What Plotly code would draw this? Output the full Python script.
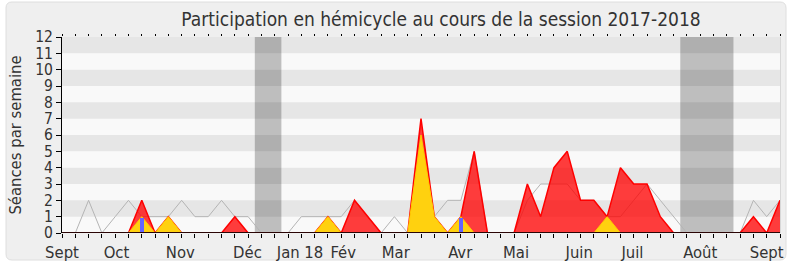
import plotly.graph_objects as go

# ---------------- data ----------------
weeks = list(range(55))
median_line = [0, 0, 2, 0, 1, 2, 1, 1, 1, 2, 1, 1, 2, 1, 1, 0, 0, 0, 1, 1,
               1, 1, 2, 1, 0, 1, 0, 1, 1, 2, 2, 5, 0, 0, 0, 2, 3, 3, 3, 2,
               2, 1, 1, 2, 3, 2, 1, 0, 0, 0, 0, 0, 2, 1, 2]
presences = [0, 0, 0, 0, 0, 0, 2, 0, 1, 0, 0, 0, 0, 1, 0, 0, 0, 0, 0, 0,
             1, 0, 2, 1, 0, 0, 0, 7, 1, 0, 1, 5, 0, 0, 0, 3, 1, 4, 5, 2,
             2, 1, 4, 3, 3, 1, 0, 0, 0, 0, 0, 0, 1, 0, 2]
interventions = [0, 0, 0, 0, 0, 0, 1, 0, 1, 0, 0, 0, 0, 0, 0, 0, 0, 0, 0, 0,
                 1, 0, 0, 0, 0, 0, 0, 6, 1, 0, 1, 0, 0, 0, 0, 0, 0, 0, 0, 0,
                 0, 1, 0, 0, 0, 0, 0, 0, 0, 0, 0, 0, 0, 0, 0]
question_weeks = [6, 30]
question_values = [0.9, 0.9]
vacances = [(14.5, 16.5), (46.5, 50.5)]
month_labels = ["Sept", "Oct", "Nov", "Déc", "Jan 18", "Fév", "Mar", "Avr",
                "Mai", "Juin", "Juil", "Août", "Sept"]
month_pos = [0, 4.1, 8.9, 13.95, 17.9, 21.15, 25.1, 29.95, 34.15, 38.9,
             42.9, 48.0, 53.0]
y_ticks = list(range(13))

# ---------------- style ----------------
W, H = 790, 267
ML, MR, MT, MB = 62, 10, 37, 34
FONT = "DejaVu Sans Condensed, DejaVu Sans, sans-serif"
TXT = "#333333"

fig = go.Figure()

fig.add_trace(go.Scatter(x=weeks, y=median_line, mode="lines",
                         line=dict(color="#b4b4b4", width=1),
                         hoverinfo="skip", showlegend=False))
fig.add_trace(go.Scatter(x=weeks, y=presences, mode="lines", fill="tozeroy",
                         fillcolor="rgba(255,0,0,0.76)",
                         line=dict(color="#ff0000", width=1.5),
                         showlegend=False))
fig.add_trace(go.Scatter(x=weeks, y=interventions, mode="lines", fill="tozeroy",
                         fillcolor="#ffd10f",
                         line=dict(color="#ffcc00", width=1),
                         showlegend=False))
fig.add_trace(go.Bar(x=question_weeks, y=question_values, width=0.3,
                     marker=dict(color="#6464ff", line=dict(width=0)),
                     xaxis="x2", yaxis="y2", showlegend=False))

pw, ph = W - ML - MR, H - MT - MB
def px(x):
    return (x - ML) / pw
def py(y):
    return (H - MB - y) / ph

shapes = []
# rounded card behind everything
x0c, x1c, y0c, y1c, r = 6, 786, 2, 260, 6
path = (f"M {px(x0c + r)} {py(y0c)} L {px(x1c - r)} {py(y0c)} "
        f"Q {px(x1c)} {py(y0c)} {px(x1c)} {py(y0c + r)} "
        f"L {px(x1c)} {py(y1c - r)} Q {px(x1c)} {py(y1c)} {px(x1c - r)} {py(y1c)} "
        f"L {px(x0c + r)} {py(y1c)} Q {px(x0c)} {py(y1c)} {px(x0c)} {py(y1c - r)} "
        f"L {px(x0c)} {py(y0c + r)} Q {px(x0c)} {py(y0c)} {px(x0c + r)} {py(y0c)} Z")
shapes.append(dict(type="path", xref="paper", yref="paper", path=path,
                   fillcolor="#efefef", line=dict(color="#dedede", width=1),
                   layer="below"))
# plot area background
shapes.append(dict(type="rect", xref="paper", yref="paper", x0=0, x1=1,
                   y0=0, y1=1, fillcolor="#f9f9f9", line=dict(width=0),
                   layer="below"))
for (a, b) in vacances:
    shapes.append(dict(type="rect", xref="x", yref="paper", x0=a, x1=b,
                       y0=0, y1=1, fillcolor="#bebebe", line=dict(width=0),
                       layer="below"))
for k in y_ticks[:-1]:
    if k % 2 == 1:
        shapes.append(dict(type="rect", xref="paper", yref="y", x0=0, x1=1,
                           y0=k, y1=k + 1, fillcolor="rgba(0,0,0,0.075)",
                           line=dict(width=0), layer="below"))
# dark baseline drawn over the areas
shapes.append(dict(type="line", xref="paper", yref="y", x0=0, x1=1,
                   y0=y_ticks[0], y1=y_ticks[0],
                   line=dict(color="#2a0505", width=2), layer="above"))

fig.update_layout(
    width=W, height=H,
    margin=dict(l=ML, r=MR, t=MT, b=MB),
    paper_bgcolor="white", plot_bgcolor="rgba(0,0,0,0)",
    font=dict(family=FONT, color=TXT, size=14),
    title=dict(text="Participation en hémicycle au cours de la session 2017-2018",
               x=441 / W, xanchor="center", y=1 - 19 / H, yanchor="middle",
               font=dict(size=19, color=TXT, family=FONT)),
    shapes=shapes,
    bargap=0,
    xaxis=dict(range=[0, 54], tickmode="array", tickvals=month_pos,
               ticktext=month_labels, ticks="outside", ticklen=4,
               tickcolor="rgba(0,0,0,0)", showgrid=False, zeroline=False,
               showline=False,
               automargin=False,
               tickfont=dict(size=16.5, color=TXT),
               minor=dict(tickmode="array", tickvals=weeks, ticks="outside",
                          ticklen=4, tickcolor="black", tickwidth=1,
                          showgrid=False)),
    xaxis2=dict(range=[0, 54], overlaying="x", side="top", tickmode="array",
                tickvals=weeks, ticks="outside", ticklen=2, tickwidth=1,
                tickcolor="black", showticklabels=False, showgrid=False,
                zeroline=False, showline=False, automargin=False),
    yaxis=dict(range=[0, 12], tickmode="array", tickvals=y_ticks,
               ticks="outside", ticklen=5, tickcolor="black",
               showgrid=False, zeroline=False, showline=True,
               linecolor="black", linewidth=1, automargin=False,
               layer="above traces",
               tickfont=dict(size=15.5, color=TXT),
               title=dict(text="Séances par semaine", standoff=9,
                          font=dict(size=16.5, color=TXT))),
    yaxis2=dict(range=[0, 12], overlaying="y", side="right",
                showticklabels=False, ticks="", showgrid=False,
                zeroline=False, showline=True, linecolor="#d8d8d8",
                automargin=False),
)

fig.write_html("out.html")
